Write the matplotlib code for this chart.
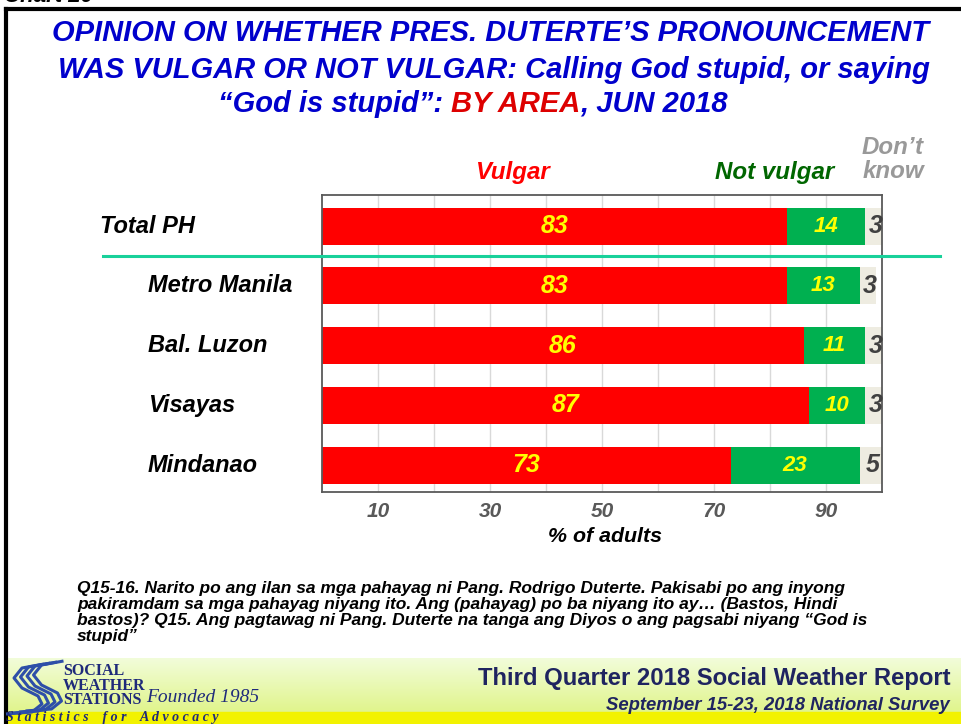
import matplotlib
matplotlib.use("Agg")
import matplotlib.pyplot as plt
import matplotlib.transforms as mtransforms
from matplotlib.patches import Rectangle
import numpy as np

areas = ["Total PH", "Metro Manila", "Bal. Luzon", "Visayas", "Mindanao"]
vulgar = [83, 83, 86, 87, 73]
not_vulgar = [14, 13, 11, 10, 23]
dont_know = [3, 3, 3, 3, 5]
ticks = [10, 30, 50, 70, 90]

SANS = ["Liberation Sans", "DejaVu Sans"]
SERIF = ["Liberation Serif", "DejaVu Serif"]

W, H = 961, 724
fig = plt.figure(figsize=(W / 100, H / 100), dpi=100)
fig.patch.set_facecolor("white")


def fx(px):
    return px / W


def fy(py):
    return 1 - py / H


# frame and footer band
fig.add_artist(plt.Line2D([fx(6), fx(6)], [0, fy(9)], color="black", lw=3))
fig.add_artist(plt.Line2D([fx(6), 1], [fy(9), fy(9)], color="black", lw=3))
fig.text(fx(4), 1.005, "Chart 20", fontsize=16, fontweight="bold", style="italic",
         family=SANS, va="center", ha="left")

band = fig.add_axes([fx(8), 0, 1 - fx(8), fy(658)])
band.axis("off")
grad = np.linspace(0, 1, 100).reshape(-1, 1)
c_top = np.array([0.95, 0.99, 0.86])
c_bot = np.array([0.88, 0.96, 0.55])
img = c_top + grad[..., None] * (c_bot - c_top)
img = np.repeat(img, 2, axis=1)
band.imshow(img, aspect="auto", extent=[0, 1, 0.18, 1])
band.add_patch(Rectangle((0, 0), 1, 0.18, color="#F2F200"))
band.set_xlim(0, 1)
band.set_ylim(0, 1)

# logo swoosh
for k in range(4):
    off = k * 5
    xs = np.array([52, 30, 22, 30, 46, 50, 40, 14]) + off * 0.3
    ys = np.array([664, 668, 678, 688, 696, 704, 712, 714])
    fig.add_artist(plt.Line2D(fx(xs + off - 8), fy(ys - off * 0.2), color="#2E4FA8",
                              lw=2.2, solid_capstyle="butt"))
for i, word in enumerate(["SOCIAL", "WEATHER", "STATIONS"]):
    fig.text(fx(63), fy(671 + i * 14.5), word, fontsize=11.5, fontweight="bold",
             family=SERIF, color="#1F2A7A", va="center", ha="left")
fig.text(fx(146), fy(698), "Founded 1985", fontsize=14, style="italic",
         family=SERIF, color="#1F2A7A", va="center", ha="left")
fig.text(fx(6), fy(717), "S t a t i s t i c s    f o r    A d v o c a c y", fontsize=10,
         fontweight="bold", style="italic", family=SERIF, color="#1F2A7A",
         va="center", ha="left")
fig.text(fx(950), fy(678), "Third Quarter 2018 Social Weather Report", fontsize=17.2,
         fontweight="bold", family=SANS, color="#1F2460", va="center", ha="right")
fig.text(fx(950), fy(706), "September 15-23, 2018 National Survey", fontsize=13.3,
         fontweight="bold", style="italic", family=SANS, color="#1F2460",
         va="center", ha="right")

# title
blue = "#0000CC"
tkw = dict(fontsize=21, fontweight="bold", style="italic", family=SANS, va="center")
fig.text(fx(491), fy(33), "OPINION ON WHETHER PRES. DUTERTE\u2019S PRONOUNCEMENT",
         color=blue, ha="center", **tkw)
fig.text(fx(494), fy(70), "WAS VULGAR OR NOT VULGAR: Calling God stupid, or saying",
         color=blue, ha="center", **tkw)
pieces = [("\u201cGod is stupid\u201d: ", blue), ("BY AREA", "#DD0000"), (", JUN 2018", blue)]
renderer = fig.canvas.get_renderer()
objs = []
total = 0
for s, c in pieces:
    t = fig.text(0, fy(104), s, color=c, ha="left", **tkw)
    w = t.get_window_extent(renderer).width
    objs.append((t, w))
    total += w
x0 = 473 - total / 2
for t, w in objs:
    t.set_x(fx(x0))
    x0 += w

# chart
ax = fig.add_axes([fx(322), fy(492), fx(882) - fx(322), fy(195) - fy(492)])
y = np.arange(len(areas))
left2 = np.array(vulgar) + np.array(not_vulgar)
ax.barh(y, vulgar, height=0.62, color="#FF0000", zorder=2)
ax.barh(y, not_vulgar, left=vulgar, height=0.62, color="#00B050", zorder=2)
ax.barh(y, dont_know, left=left2, height=0.62, color="#EEECE1", zorder=2)
ax.set_xlim(0, 100)
ax.set_ylim(4.45, -0.52)
ax.set_xticks(np.arange(20, 100, 20), minor=True)
ax.set_xticks(ticks)
ax.grid(axis="x", which="both", color="#D9D9D9", lw=1, zorder=0)
ax.set_axisbelow(True)
ax.set_xticklabels([str(t) for t in ticks], fontsize=15, fontweight="bold",
                   style="italic", family=SANS, color="#595959")
ax.tick_params(axis="x", which="both", length=0, pad=7)
ax.set_yticks([])
for sp in ax.spines.values():
    sp.set_color("#595959")
    sp.set_linewidth(1.3)

for i in range(len(areas)):
    ax.text(vulgar[i] / 2, i, str(vulgar[i]), ha="center", va="center", color="#FFFF00",
            fontsize=18, fontweight="bold", style="italic", family=SANS, zorder=3)
    ax.text(vulgar[i] + not_vulgar[i] / 2, i, str(not_vulgar[i]), ha="center", va="center",
            color="#FFFF00", fontsize=16, fontweight="bold", style="italic", family=SANS,
            zorder=3)
    end = min(left2[i] + dont_know[i], 100)
    ax.text((left2[i] + end) / 2 + 0.3, i, str(dont_know[i]), ha="center", va="center",
            color="#404040", fontsize=18, fontweight="bold", style="italic", family=SANS,
            zorder=3, clip_on=False)

trans = mtransforms.blended_transform_factory(fig.transFigure, ax.transData)
for i, a in enumerate(areas):
    xl = 100 if i == 0 else 148
    ax.text(fx(xl), i, a, transform=trans, ha="left", va="center", fontsize=17,
            fontweight="bold", style="italic", family=SANS, color="black")

fig.add_artist(plt.Line2D([fx(103), fx(940)], [fy(256), fy(256)], color="#19D19A", lw=2.2))

hkw = dict(fontsize=17.4, fontweight="bold", style="italic", family=SANS, ha="center",
           va="center")
fig.text(fx(513), fy(172), "Vulgar", color="#FF0000", **hkw)
fig.text(fx(775), fy(172), "Not vulgar", color="#006600", **hkw)
fig.text(fx(893), fy(148), "Don\u2019t", color="#999999", **hkw)
fig.text(fx(893), fy(172), "know", color="#999999", **hkw)

fig.text(fx(605), fy(537), "% of adults", fontsize=15.4, fontweight="bold", style="italic",
         family=SANS, ha="center", va="center")

note = ("Q15-16. Narito po ang ilan sa mga pahayag ni Pang. Rodrigo Duterte. Pakisabi po ang inyong\n"
        "pakiramdam sa mga pahayag niyang ito. Ang (pahayag) po ba niyang ito ay\u2026 (Bastos, Hindi\n"
        "bastos)? Q15. Ang pagtawag ni Pang. Duterte na tanga ang Diyos o ang pagsabi niyang \u201cGod is\n"
        "stupid\u201d")
fig.text(fx(77), fy(581), note, fontsize=12.5, fontweight="bold", style="italic", family=SANS,
         ha="left", va="top", linespacing=1.08)

fig.savefig("out.png", dpi=100)
